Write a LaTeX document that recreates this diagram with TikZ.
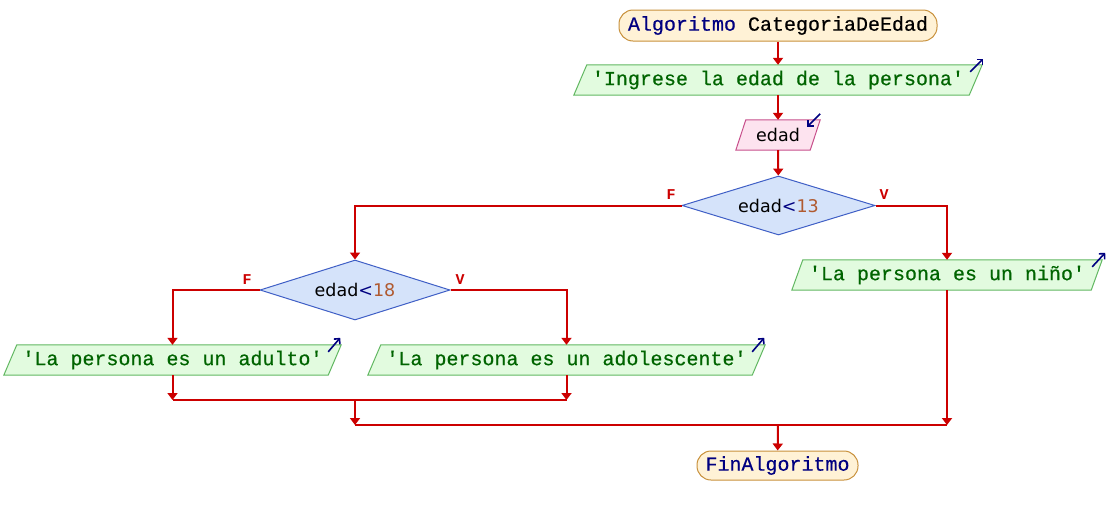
\documentclass[tikz,border=0pt]{standalone}
\usepackage{fontspec}
\setmainfont{DejaVu Sans}
\newfontfamily\monof[FakeBold=0.5]{Liberation Mono}
\newfontfamily\lblf{Liberation Mono}
\usetikzlibrary{shapes.geometric,arrows.meta,backgrounds}
\definecolor{flowred}{HTML}{CC0000}
\definecolor{navyc}{HTML}{000080}
\definecolor{termf}{HTML}{FFF2D6}
\definecolor{termb}{HTML}{C8913C}
\definecolor{outf}{HTML}{E2FBDF}
\definecolor{outb}{HTML}{62B862}
\definecolor{outt}{HTML}{006400}
\definecolor{inf}{HTML}{FDE3EF}
\definecolor{inb}{HTML}{C8508C}
\definecolor{decf}{HTML}{D5E3FA}
\definecolor{decb}{HTML}{3F5FC6}
\definecolor{numc}{HTML}{B05A30}
\newcommand\ioshape[3]{%
  \path[#3] (#1.south west) -- ([xshift=#2pt]#1.north west) -- (#1.north east) -- ([xshift=-#2pt]#1.south east) -- cycle;}
\begin{document}
\begin{tikzpicture}[x=1pt,y=-1pt,
  termbox/.style={draw=termb, fill=termf, rounded corners=14pt, line width=1pt,
    minimum height=30pt, inner sep=0pt, font=\monof\fontsize{20}{22}\selectfont},
  iobox/.style={draw=none, minimum height=30pt, inner sep=0pt},
  outtxt/.style={font=\monof\fontsize{20}{22}\selectfont, text=outt},
  intxt/.style={font=\fontsize{17.5}{20}\selectfont, text=black},
  outstyle/.style={fill=outf, draw=outb, line width=1pt},
  instyle/.style={fill=inf, draw=inb, line width=1pt},
  decbox/.style={diamond, draw=decb, fill=decf, line width=1pt, aspect=3.2,
    inner sep=0pt, font=\fontsize{17.5}{20}\selectfont},
  flow/.style={draw=flowred, line width=2pt, -{Triangle[width=10pt,length=7pt]}},
  plainline/.style={draw=flowred, line width=2pt},
  lbl/.style={font=\lblf\bfseries\fontsize{15}{15}\selectfont, text=flowred, inner sep=0pt},
  icon/.style={draw=navyc, line width=1.6pt, -{Straight Barb[length=4pt,width=8pt]}}]
\useasboundingbox (0,0) rectangle (1108,515);

% nodes
\node[termbox, minimum width=318pt, minimum height=31pt] (start) at (778,25.5) {\textcolor{navyc}{Algoritmo} CategoriaDeEdad};
\node[iobox, outtxt, minimum width=408pt] (out1) at (778,80) {'Ingrese la edad de la persona'};
\node[iobox, intxt, minimum width=84pt] (in1) at (778,135) {edad};
\node[decbox, minimum width=193pt, minimum height=59pt] (d1) at (778.5,205.5) {edad\textcolor{navyc}{<}\textcolor{numc}{13}};
\node[iobox, outtxt, minimum width=310pt] (out3) at (947,275) {'La persona es un niño'};
\node[decbox, minimum width=190pt, minimum height=60pt] (d2) at (355,290) {edad\textcolor{navyc}{<}\textcolor{numc}{18}};
\node[iobox, outtxt, minimum width=337pt] (outA) at (172.5,360) {'La persona es un adulto'};
\node[iobox, outtxt, minimum width=397pt] (outB) at (566.5,360) {'La persona es un adolescente'};
\node[termbox, minimum width=161pt, minimum height=29pt, text=navyc] (fin) at (777.5,465.5) {FinAlgoritmo};

% labels
\node[lbl] (lf1) at (671,195) {F};
\node[lbl] (lv1) at (884,195) {V};
\node[lbl] (lf2) at (247,280) {F};
\node[lbl] (lv2) at (460,280) {V};

% io shapes on background
\begin{scope}[on background layer]
\fill[white] (0,0) rectangle (1108,515);
\ioshape{out1}{13}{outstyle}
\ioshape{in1}{10}{instyle}
\ioshape{out3}{11}{outstyle}
\ioshape{outA}{13}{outstyle}
\ioshape{outB}{13}{outstyle}
\end{scope}

% icons
\draw[icon] ([xshift=-12pt,yshift=-7pt]out1.north east) -- ([xshift=1pt,yshift=6pt]out1.north east);
\draw[icon] ([xshift=0pt,yshift=6pt]in1.north east) -- ([xshift=-13pt,yshift=-7pt]in1.north east);
\draw[icon] ([xshift=-10pt,yshift=-7pt]out3.north east) -- ([xshift=3pt,yshift=7pt]out3.north east);
\draw[icon] ([xshift=-13pt,yshift=-7pt]outA.north east) -- ([xshift=-1pt,yshift=7pt]outA.north east);
\draw[icon] ([xshift=-13pt,yshift=-7pt]outB.north east) -- ([xshift=-1pt,yshift=7pt]outB.north east);

% junction coordinates
\coordinate (jA) at (172.5,400);
\coordinate (jB) at (566.5,400);
\coordinate (jM) at (355,400);
\coordinate (kM) at (355,425);
\coordinate (kR) at (947,425);
\coordinate (kC) at (778,425);

% connectors
\draw[flow] (start) -- (out1);
\draw[flow] (out1) -- (in1);
\draw[flow] (in1) -- (d1);
\draw[flow] (d1.west) -| (d2.north);
\draw[flow] (d1.east) -| (out3.north);
\draw[flow] (d2.west) -| (outA.north);
\draw[flow] (d2.east) -| (outB.north);
\draw[flow] (outA) -- (jA);
\draw[flow] (outB) -- (jB);
\draw[plainline] (jA) -- (jB);
\draw[flow] (jM) -- (kM);
\draw[plainline] (kM) -- (kR);
\draw[flow] (out3) -- (kR);
\draw[flow] (kC) -- (fin);
\end{tikzpicture}
\end{document}
